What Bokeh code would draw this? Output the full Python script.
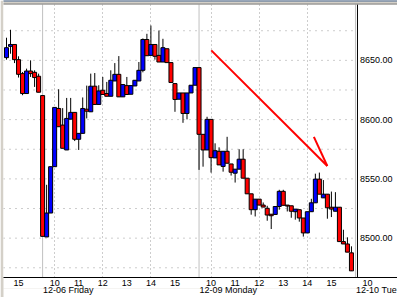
from bokeh.plotting import figure
from bokeh.models import (Range1d, FixedTicker, Span, LinearAxis, ColumnDataSource)
from bokeh.core.properties import value
from bokeh.embed import file_html
from bokeh.resources import INLINE

# ---- data: 10-minute bars, 12-05 14:30 ... 12-09 15:50 ----
opens = [8652.3, 8661.8, 8663.4, 8650.6, 8638.8, 8622.0, 8641.0, 8639.9, 8636.6,
         8620.3, 8501.0, 8521.2, 8560.3, 8609.4, 8595.4, 8574.4, 8600.4, 8606.1,
         8583.4, 8588.4, 8608.8, 8606.6, 8628.2, 8612.8, 8624.8, 8622.0, 8619.7,
         8632.6, 8638.2, 8619.2, 8628.7, 8621.4, 8628.4, 8632.6, 8641.6, 8667.6,
         8654.2, 8663.4, 8654.2, 8648.6, 8659.8, 8648.1, 8630.4, 8617.2, 8622.5,
         8605.2, 8622.5, 8629.0,
         8643.9, 8587.6, 8574.4, 8600.2, 8567.7, 8573.3, 8560.5, 8573.3, 8562.6,
         8554.8, 8558.2, 8566.6, 8550.6, 8537.4, 8524.0, 8532.9, 8527.9, 8525.2,
         8520.2, 8520.0, 8526.7, 8539.5, 8527.9, 8527.3, 8522.3, 8524.0, 8517.0,
         8504.4, 8522.3, 8529.8, 8549.8, 8534.0, 8537.1, 8526.1, 8522.7, 8526.1,
         8497.1, 8495.1, 8487.6]
highs = [8669.1, 8675.8, 8663.4, 8653.4, 8640.2, 8643.0, 8650.0, 8641.6, 8638.8,
         8620.3, 8545.0, 8560.3, 8610.3, 8625.6, 8609.7, 8618.3, 8618.3, 8606.1,
         8588.4, 8618.7, 8628.7, 8638.8, 8639.3, 8629.0, 8636.0, 8631.8, 8641.6,
         8647.7, 8653.6, 8629.6, 8636.0, 8628.7, 8633.2, 8648.6, 8668.5, 8672.4,
         8679.4, 8663.4, 8675.2, 8668.2, 8659.8, 8648.1, 8630.4, 8622.5, 8622.5,
         8622.5, 8629.0, 8643.9,
         8643.9, 8587.6, 8602.4, 8600.2, 8580.0, 8576.6, 8573.3, 8585.5, 8562.6,
         8558.2, 8575.0, 8575.0, 8550.6, 8537.4, 8532.9, 8532.9, 8530.1, 8527.3,
         8520.2, 8526.7, 8540.8, 8540.8, 8527.9, 8527.3, 8524.5, 8524.0, 8517.0,
         8522.3, 8533.2, 8554.4, 8555.3, 8549.0, 8537.1, 8539.3, 8538.8, 8526.1,
         8507.1, 8500.7, 8493.1]
lows = [8650.6, 8655.6, 8647.7, 8635.5, 8620.6, 8622.0, 8636.0, 8627.6, 8623.1,
        8501.5, 8501.0, 8521.2, 8560.3, 8594.0, 8575.8, 8574.4, 8600.4, 8581.9,
        8574.4, 8588.4, 8601.0, 8606.6, 8612.8, 8612.8, 8621.2, 8619.7, 8619.7,
        8632.6, 8619.2, 8619.2, 8621.2, 8621.4, 8628.4, 8632.6, 8639.9, 8653.9,
        8654.2, 8650.6, 8648.6, 8648.6, 8648.1, 8631.3, 8606.6, 8617.2, 8597.3,
        8600.2, 8622.5, 8629.0,
        8557.6, 8560.3, 8574.4, 8555.3, 8567.7, 8561.8, 8556.1, 8563.2, 8552.8,
        8546.9, 8558.2, 8550.6, 8537.4, 8519.8, 8518.3, 8527.9, 8526.2, 8514.7,
        8507.7, 8520.0, 8524.0, 8527.7, 8522.5, 8517.2, 8515.6, 8513.9, 8501.3,
        8504.4, 8522.3, 8529.8, 8537.1, 8534.0, 8516.4, 8517.8, 8522.7, 8497.1,
        8495.1, 8488.2, 8472.4]
closes = [8660.7, 8663.4, 8650.6, 8638.2, 8622.0, 8641.0, 8638.8, 8635.5, 8623.1,
          8501.5, 8521.2, 8560.3, 8610.3, 8594.0, 8575.8, 8601.0, 8606.1, 8583.4,
          8588.4, 8609.4, 8607.1, 8628.2, 8612.8, 8624.2, 8621.2, 8619.7, 8633.2,
          8638.2, 8619.2, 8629.6, 8621.2, 8628.7, 8633.2, 8641.6, 8667.6, 8653.9,
          8663.4, 8653.4, 8648.6, 8660.7, 8648.1, 8631.3, 8617.0, 8622.5, 8605.2,
          8622.5, 8629.0, 8643.9,
          8587.6, 8574.4, 8600.2, 8567.9, 8573.8, 8561.8, 8573.3, 8563.2, 8555.6,
          8558.2, 8566.6, 8550.6, 8537.4, 8524.0, 8532.9, 8527.9, 8526.2, 8519.5,
          8518.9, 8526.7, 8539.5, 8527.7, 8527.1, 8522.7, 8524.5, 8517.0, 8504.4,
          8522.3, 8529.8, 8549.8, 8537.1, 8537.1, 8525.6, 8524.5, 8526.1, 8497.1,
          8495.1, 8488.2, 8472.4]

# session starts (bar index of 9:30) and their date captions
day_start_idx = [9, 48, 87]
day_names = ["12-06 Friday", "12-09 Monday", "12-10 Tue"]
# hour labels (bar index of each full hour)
hour_tick_idx = [3, 12, 18, 24, 30, 36, 42, 51, 57, 63, 69, 75, 81, 90]
hour_tick_lbl = ["15", "10", "11", "12", "13", "14", "15",
                 "10", "11", "12", "13", "14", "15", "10"]
# dotted vertical grid at 10, 12, 14 o'clock
grid_hour_idx = [12, 24, 36, 51, 63, 75]
price_ticks = [8500, 8550, 8600, 8650]
grid_levels = [8475, 8500, 8525, 8550, 8575, 8600, 8625, 8650, 8675]
# hand-drawn red trend arrow (data coordinates)
trend_xs = [[51.05, 79.98], [76.63, 79.98]]
trend_ys = [[8658.4, 8560.9], [8585.5, 8560.9]]

# ---- layout constants ----
W, H = 397, 297
BORDER_L, BORDER_T, BORDER_R, BORDER_B = 3, 0, 0, 19
X_START, X_END = -0.75, 97.48        # bar units; price scale sits at PRICE_AXIS_X
PRICE_AXIS_X = 87.5
Y_LOW, Y_TOP = 8466.8, 8700.5        # Y_TOP includes the 4px window strip
PX_PER_BAR = (W - BORDER_L - BORDER_R) / (X_END - X_START)
PX_PER_PT = (H - BORDER_T - BORDER_B) / (Y_TOP - Y_LOW)
FONT = "Liberation Sans"
FSIZE = "9px"
DATE_LABEL_W = [50.5, 57.5, 41.0]    # rendered width of the date captions, px

idx = list(range(len(opens)))
colors = ["#0000ff" if c > o else "#ff0000" for o, c in zip(opens, closes)]
src = ColumnDataSource(dict(
    x=idx, open=opens, high=highs, low=lows, close=closes,
    top=[max(o, c) for o, c in zip(opens, closes)],
    bottom=[min(o, c) for o, c in zip(opens, closes)],
    color=colors))

p = figure(width=W, height=H, output_backend="svg", toolbar_location=None,
           x_range=Range1d(X_START, X_END), y_range=Range1d(Y_LOW, Y_TOP),
           y_axis_location=None,
           min_border_left=BORDER_L, min_border_top=BORDER_T,
           min_border_right=BORDER_R, min_border_bottom=BORDER_B)
p.outline_line_color = None
p.background_fill_color = "white"

def style_axis(ax, standoff):
    ax.major_tick_in = 0
    ax.major_tick_out = 0
    ax.minor_tick_in = 0
    ax.minor_tick_out = 0
    ax.major_label_standoff = standoff
    ax.major_label_text_font = FONT
    ax.major_label_text_font_size = FSIZE
    ax.major_label_text_color = "black"

# time axis: hour labels
xa = p.xaxis[0]
xa.ticker = FixedTicker(ticks=hour_tick_idx)
xa.major_label_overrides = {i: t for i, t in zip(hour_tick_idx, hour_tick_lbl)}
xa.axis_line_color = "black"
style_axis(xa, 2)

# second line of the time axis: date captions, left-aligned at each session start
date_pos = [d + (0.5 + w / 2) / PX_PER_BAR for d, w in zip(day_start_idx, DATE_LABEL_W)]
da = LinearAxis(ticker=FixedTicker(ticks=date_pos),
                major_label_overrides={pos: n for pos, n in zip(date_pos, day_names)},
                axis_line_color=None)
style_axis(da, -4)
p.add_layout(da, "below")

try:
    xa.background_fill_color = "white"
    da.background_fill_color = "white"
    p.border_fill_color = "#d4d0c8"
except Exception:
    p.border_fill_color = "white"

# grids
p.ygrid.visible = False
p.xgrid[0].ticker = FixedTicker(ticks=grid_hour_idx)
p.xgrid[0].grid_line_color = "#9a9a9a"
p.xgrid[0].grid_line_dash = "1 3"
p.segment(x0=X_START, x1=PRICE_AXIS_X, y0=grid_levels, y1=grid_levels,
          line_color="#9a9a9a", line_dash="1 5", line_width=1, level="underlay")

for d in day_start_idx:
    p.add_layout(Span(location=d, dimension="height", line_color="#c0c0c0",
                      line_width=1, level="underlay"))

# candles
p.segment(x0="x", y0="low", x1="x", y1="high", source=src,
          line_color="black", line_width=1)
p.vbar(x="x", width=1.0, top="top", bottom="bottom", source=src,
       fill_color="color", line_color="black", line_width=1)

# trend arrow
p.multi_line(xs=trend_xs, ys=trend_ys, line_color="#ff0000", line_width=2)

# price scale on the right of the bars
p.add_layout(Span(location=PRICE_AXIS_X, dimension="height", line_color="black",
                  line_width=1))
p.text(x=[PRICE_AXIS_X] * len(price_ticks), y=price_ticks,
       text=[f"{v:.2f}" for v in price_ticks], x_offset=2.5,
       text_align="left", text_baseline="middle",
       text_font=value(FONT), text_font_size=FSIZE, text_color="black")

# window strip along the top edge (light face, dark title line, shadow line)
def hstrip(px_from_top, px_to_top, color):
    p.quad(left=X_START, right=X_END,
           top=Y_TOP - px_from_top / PX_PER_PT, bottom=Y_TOP - px_to_top / PX_PER_PT,
           fill_color=color, line_color=None, level="overlay")

hstrip(0, 4, "#d4d0c8")
hstrip(0, 1, "#4a6890")
hstrip(3, 4, "#808080")

open("out.html", "w").write(file_html(p, INLINE))
